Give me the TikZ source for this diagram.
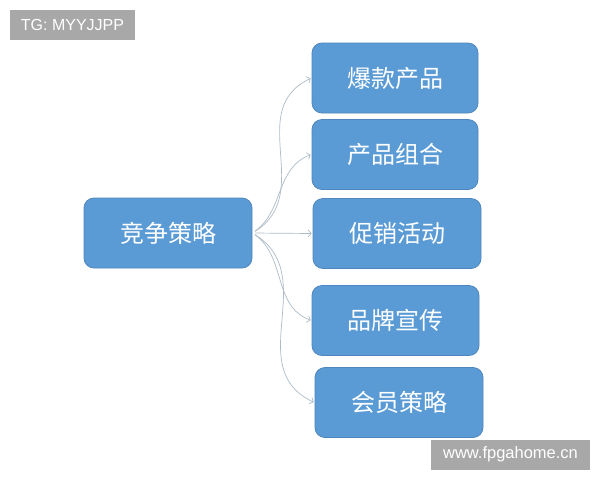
\documentclass[tikz,border=0pt]{standalone}
\usepackage{fontspec}
\setmainfont{Liberation Sans}
\newfontfamily\cjk{Noto Sans CJK SC}
\usetikzlibrary{arrows.meta}
\definecolor{boxfill}{HTML}{5B9BD5}
\definecolor{boxline}{HTML}{4F86BD}
\definecolor{linkcol}{HTML}{AEBCC8}
\definecolor{wmgray}{HTML}{A8A8A8}
\tikzset{
  catbox/.style={draw=boxline, line width=0.8pt, fill=boxfill, rounded corners=10pt,
    minimum width=#1, minimum height=70pt, inner sep=0pt,
    text=white, font=\cjk\fontsize{24}{24}\selectfont},
  catbox/.default=167pt,
  link/.style={draw=linkcol, line width=0.7pt, -{Straight Barb[length=3pt,width=7pt]},
    shorten <=3pt, shorten >=1pt},
  wmark/.style={fill=wmgray, text=white, inner sep=0pt, minimum height=30pt,
    font=\fontsize{16}{16}\selectfont}
}
\begin{document}
\begin{tikzpicture}[x=1pt,y=-1pt]
\useasboundingbox (0,0) rectangle (600,480);
\fill[white] (0,0) rectangle (600,480);
\node[catbox=168pt] (src) at (168,233) {竞争策略};
\node[catbox=166pt] (b1) at (395,78) {爆款产品};
\node[catbox=166pt] (b2) at (395,154.5) {产品组合};
\node[catbox=168pt] (b3) at (397,233.5) {促销活动};
\node[catbox=167pt] (b4) at (395.5,320.5) {品牌宣传};
\node[catbox=168pt] (b5) at (399,402.5) {会员策略};
\draw[link] (src.east) to[out=32, in=205, looseness=1.15] (b1.west);
\draw[link] (src.east) to[out=35, in=200, looseness=1] (b2.west);
\draw[link] (src.east) to (b3.west);
\draw[link] (src.east) to[out=-35, in=160, looseness=1] (b4.west);
\draw[link] (src.east) to[out=-32, in=155, looseness=1.15] (b5.west);
\node[wmark, minimum width=125pt] (wm1) at (72.5,25) {TG: MYYJJPP};
\node[wmark, minimum width=159pt] (wm2) at (510.5,454.5) {\fontsize{16.5}{16.5}\selectfont www.fpgahome.cn};
\end{tikzpicture}
\end{document}
